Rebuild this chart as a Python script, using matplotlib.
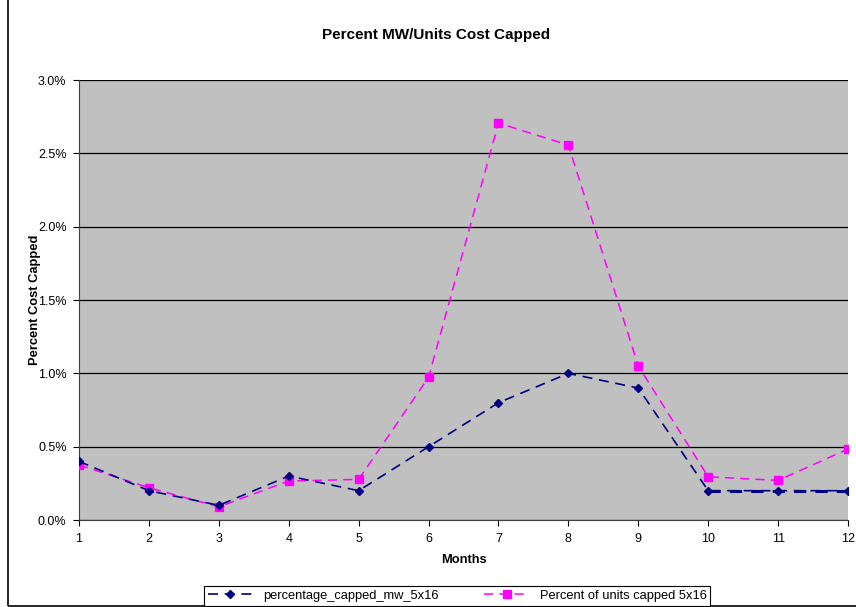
import matplotlib.pyplot as plt
from matplotlib.ticker import FuncFormatter
from matplotlib.patches import Rectangle

plt.rcParams['font.family'] = ['Liberation Sans', 'DejaVu Sans']

months = [1, 2, 3, 4, 5, 6, 7, 8, 9, 10, 11, 12]
capped_mw = [0.40, 0.20, 0.10, 0.30, 0.20, 0.50, 0.80, 1.00, 0.90, 0.20, 0.20, 0.20]
units_capped = [0.375, 0.22, 0.09, 0.266, 0.277, 0.973, 2.707, 2.557, 1.05, 0.295, 0.27, 0.484]

fig = plt.figure(figsize=(8.56, 6.07), dpi=100)
ax = fig.add_axes([0.0923, 0.1433, 0.8984, 0.7247])
ax.set_facecolor('#C0C0C0')

# outer chart border
fig.patches.append(Rectangle((0.009, 0.002), 1.2, 1.2, transform=fig.transFigure,
                             fill=False, edgecolor='black', linewidth=1.2))

ax.plot(months, capped_mw, color='#000080', linestyle=(0, (6, 4)), linewidth=1.2,
        marker='D', markersize=4.5, label='percentage_capped_mw_5x16', zorder=4)
ax.plot(months[9:], capped_mw[9:], color='#000080', linestyle=(0, (4, 3)), linewidth=2.2, zorder=4)
ax.plot(months, units_capped, color='#FF00FF', linestyle=(0, (6, 4)), linewidth=1.1,
        marker='s', markersize=5.5, label='Percent of units capped 5x16', zorder=3)

ax.set_xlim(1, 12)
ax.set_ylim(0, 3.0)
ax.set_xticks(months)
ax.set_yticks([0, 0.5, 1.0, 1.5, 2.0, 2.5, 3.0])
ax.yaxis.set_major_formatter(FuncFormatter(lambda v, p: f'{v:.1f}%'))
ax.grid(axis='y', color='black', linewidth=0.9)
ax.set_axisbelow(True)
ax.tick_params(labelsize=9, length=4, direction='out', color='black', pad=5)
for s in ['top', 'right']:
    ax.spines[s].set_visible(False)
ax.spines['left'].set_color('#404040')
ax.spines['bottom'].set_color('#404040')

fig.text(0.51, 0.943, 'Percent MW/Units Cost Capped', fontsize=11, fontweight='bold',
         ha='center', va='center')
ax.set_xlabel('Months', fontsize=9.3, fontweight='bold', labelpad=7)
ax.set_ylabel('Percent Cost Capped', fontsize=9.3, fontweight='bold', labelpad=-2)

leg = fig.legend(loc='center', bbox_to_anchor=(0.534, 0.0185), ncol=2, fontsize=9.3,
                 fancybox=False, edgecolor='black', framealpha=1, borderpad=0.3,
                 handlelength=3.5, columnspacing=3.5)
leg.get_frame().set_linewidth(0.8)

fig.savefig('out.png', dpi=100)
